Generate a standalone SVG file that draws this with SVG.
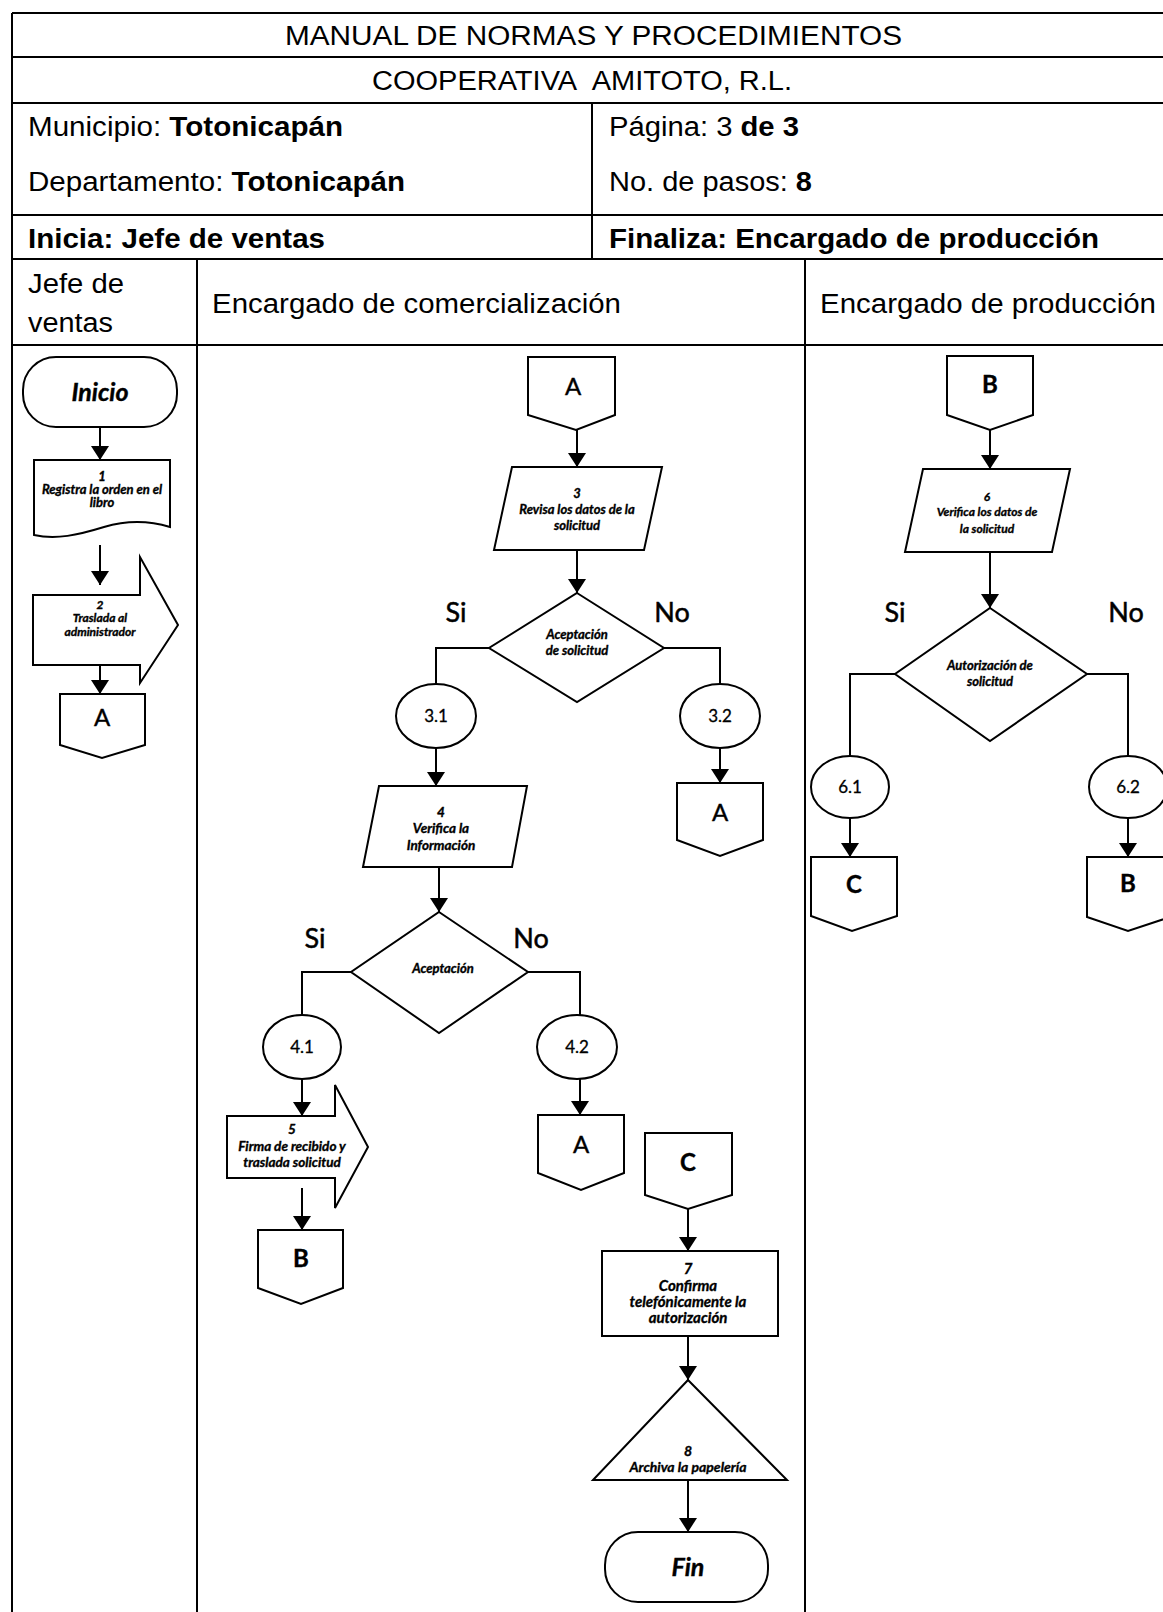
<svg xmlns="http://www.w3.org/2000/svg" width="1163" height="1612" viewBox="0 0 1163 1612">
  <style>
    .grid { stroke: #000; stroke-width: 2; fill: none; }
    .ln { stroke: #000; stroke-width: 2; fill: none; }
    .sh { stroke: #000; stroke-width: 2; fill: #fff; stroke-linejoin: miter; }
    .hd { font-family: "Liberation Sans", Arial, sans-serif; font-size: 27px; fill: #000; }
    .b { font-weight: bold; }
    .st { font-family: Lato, "Open Sans", sans-serif; font-weight: bold; font-style: italic; font-size: 13px; text-anchor: middle; fill: #000; stroke: #000; stroke-width: 0.35; }
    .s12 { font-size: 12px; }
    .s135 { font-size: 13.5px; }
    .s14 { font-size: 14px; }
    .s15 { font-size: 15px; }
    .term { font-family: Lato, "Open Sans", sans-serif; font-weight: bold; font-style: italic; font-size: 25px; text-anchor: middle; fill: #000; stroke: #000; stroke-width: 0.4; }
    .lb { font-family: Lato, "Open Sans", sans-serif; font-size: 27px; text-anchor: middle; fill: #000; stroke: #000; stroke-width: 0.5; }
    .cn { font-family: Lato, "Open Sans", sans-serif; font-size: 17px; text-anchor: middle; fill: #000; stroke: #000; stroke-width: 0.3; }
    .cx { font-family: Lato, "Open Sans", sans-serif; font-size: 24px; text-anchor: middle; fill: #000; stroke: #000; stroke-width: 0.4; }
    .cxb { font-weight: bold; }
  </style>
  <defs>
    <marker id="arrow" markerUnits="userSpaceOnUse" markerWidth="14" markerHeight="18" viewBox="0 0 14 18" refX="14" refY="9" orient="auto">
      <path d="M0,0 L14,9 L0,18 Z" fill="#000"/>
    </marker>
  </defs>

  <rect x="0" y="0" width="1163" height="1612" fill="#fff"/>

  <!-- header table and swimlanes -->
  <g id="table">
    <path class="grid" d="M12,13 H1163 M12,57 H1163 M12,103 H1163 M12,215 H1163 M12,259 H1163 M12,345 H1163"/>
    <path class="grid" d="M12,13 V1612 M592,103 V259 M197,259 V1612 M805,259 V1612"/>
    <text class="hd" x="285" y="45" textLength="617" lengthAdjust="spacingAndGlyphs">MANUAL DE NORMAS Y PROCEDIMIENTOS</text>
    <text class="hd" x="372" y="90" textLength="420" lengthAdjust="spacingAndGlyphs">COOPERATIVA&#160; AMITOTO, R.L.</text>
    <text class="hd" x="28" y="136" textLength="315" lengthAdjust="spacingAndGlyphs">Municipio: <tspan class="b">Totonicapán</tspan></text>
    <text class="hd" x="28" y="191" textLength="377" lengthAdjust="spacingAndGlyphs">Departamento: <tspan class="b">Totonicapán</tspan></text>
    <text class="hd" x="609" y="136" textLength="190" lengthAdjust="spacingAndGlyphs">Página: 3 <tspan class="b">de 3</tspan></text>
    <text class="hd" x="609" y="191" textLength="203" lengthAdjust="spacingAndGlyphs">No. de pasos: <tspan class="b">8</tspan></text>
    <text class="hd b" x="28" y="248" textLength="297" lengthAdjust="spacingAndGlyphs">Inicia: Jefe de ventas</text>
    <text class="hd b" x="609" y="248" textLength="490" lengthAdjust="spacingAndGlyphs">Finaliza: Encargado de producción</text>
    <text class="hd" x="28" y="293" textLength="96" lengthAdjust="spacingAndGlyphs">Jefe de</text>
    <text class="hd" x="28" y="332" textLength="85" lengthAdjust="spacingAndGlyphs">ventas</text>
    <text class="hd" x="212" y="313" textLength="409" lengthAdjust="spacingAndGlyphs">Encargado de comercialización</text>
    <text class="hd" x="820" y="313" textLength="336" lengthAdjust="spacingAndGlyphs">Encargado de producción</text>
  </g>

  <!-- connectors -->
  <g id="connectors">
    <path class="ln" d="M100,427 V460" marker-end="url(#arrow)"/>
    <path class="ln" d="M100,545 V585" marker-end="url(#arrow)"/>
    <path class="ln" d="M100,665 V694" marker-end="url(#arrow)"/>

    <path class="ln" d="M577,430 V467" marker-end="url(#arrow)"/>
    <path class="ln" d="M577,550 V593" marker-end="url(#arrow)"/>
    <path class="ln" d="M489,648 H436 V684"/>
    <path class="ln" d="M664,648 H720 V684"/>
    <path class="ln" d="M720,748 V783" marker-end="url(#arrow)"/>
    <path class="ln" d="M436,748 V786" marker-end="url(#arrow)"/>
    <path class="ln" d="M439,867 V912" marker-end="url(#arrow)"/>
    <path class="ln" d="M351,972 H302 V1015"/>
    <path class="ln" d="M528,972 H580 V1015"/>
    <path class="ln" d="M580,1079 V1115" marker-end="url(#arrow)"/>
    <path class="ln" d="M302,1079 V1116" marker-end="url(#arrow)"/>
    <path class="ln" d="M302,1188 V1230" marker-end="url(#arrow)"/>
    <path class="ln" d="M688,1209 V1251" marker-end="url(#arrow)"/>
    <path class="ln" d="M688,1336 V1380" marker-end="url(#arrow)"/>
    <path class="ln" d="M688,1480 V1532" marker-end="url(#arrow)"/>

    <path class="ln" d="M990,430 V469" marker-end="url(#arrow)"/>
    <path class="ln" d="M990,552 V608" marker-end="url(#arrow)"/>
    <path class="ln" d="M895,674 H850 V756"/>
    <path class="ln" d="M1087,674 H1128 V756"/>
    <path class="ln" d="M850,818 V857" marker-end="url(#arrow)"/>
    <path class="ln" d="M1128,818 V857" marker-end="url(#arrow)"/>
  </g>

  <!-- Jefe de ventas lane -->
  <g id="inicio">
    <rect class="sh" x="23" y="357" width="154" height="70" rx="33"/>
    <text class="term" x="100" y="401">Inicio</text>
  </g>
  <g id="paso1">
    <path class="sh" d="M34,460 H170 V527 C150,521 128,520 104,527 C78,535 56,540 34,535 Z"/>
    <text class="st" x="102" y="481">1</text>
    <text class="st" x="102" y="494">Registra la orden en el</text>
    <text class="st" x="102" y="507">libro</text>
  </g>
  <g id="paso2">
    <path class="sh" d="M33,595 H140 V557 L178,625 L140,683 V665 H33 Z"/>
    <text class="st s12" x="100" y="609">2</text>
    <text class="st s12" x="100" y="622">Traslada al</text>
    <text class="st s12" x="100" y="636">administrador</text>
  </g>
  <g id="conector-a1">
    <path class="sh" d="M60,694 H145 V745 L102,758 L60,745 Z"/>
    <text class="cx" x="102" y="726">A</text>
  </g>

  <!-- Encargado de comercialización lane -->
  <g id="conector-a2">
    <path class="sh" d="M528,357 H615 V415 L576,430 L528,415 Z"/>
    <text class="cx" x="573" y="395">A</text>
  </g>
  <g id="paso3">
    <path class="sh" d="M512,467 L662,467 L644,550 L494,550 Z"/>
    <text class="st" x="577" y="498">3</text>
    <text class="st" x="577" y="514">Revisa los datos de la</text>
    <text class="st" x="577" y="530">solicitud</text>
  </g>
  <g id="decision3">
    <path class="sh" d="M577,593 L664,648 L577,702 L489,648 Z"/>
    <text class="st" x="577" y="639">Aceptación</text>
    <text class="st" x="577" y="655">de solicitud</text>
    <text class="lb" x="456" y="622">Si</text>
    <text class="lb" x="672" y="622">No</text>
  </g>
  <g id="n3-1">
    <ellipse class="sh" cx="436" cy="716" rx="40" ry="32"/>
    <text class="cn" x="436" y="722">3.1</text>
  </g>
  <g id="n3-2">
    <ellipse class="sh" cx="720" cy="716" rx="40" ry="32"/>
    <text class="cn" x="720" y="722">3.2</text>
  </g>
  <g id="conector-a3">
    <path class="sh" d="M677,783 H763 V840 L720,856 L677,840 Z"/>
    <text class="cx" x="720" y="821">A</text>
  </g>
  <g id="paso4">
    <path class="sh" d="M379,786 L527,786 L512,867 L363,867 Z"/>
    <text class="st s135" x="441" y="817">4</text>
    <text class="st s135" x="441" y="833">Verifica la</text>
    <text class="st s135" x="441" y="850">Información</text>
  </g>
  <g id="decision4">
    <path class="sh" d="M439,912 L528,972 L439,1033 L351,972 Z"/>
    <text class="st" x="443" y="973">Aceptación</text>
    <text class="lb" x="315" y="948">Si</text>
    <text class="lb" x="531" y="948">No</text>
  </g>
  <g id="n4-1">
    <ellipse class="sh" cx="302" cy="1047" rx="39" ry="32"/>
    <text class="cn" x="302" y="1053">4.1</text>
  </g>
  <g id="n4-2">
    <ellipse class="sh" cx="577" cy="1047" rx="40" ry="32"/>
    <text class="cn" x="577" y="1053">4.2</text>
  </g>
  <g id="conector-a4">
    <path class="sh" d="M538,1115 H624 V1173 L581,1190 L538,1173 Z"/>
    <text class="cx" x="581" y="1153">A</text>
  </g>
  <g id="paso5">
    <path class="sh" d="M227,1116 H335 V1085 L368,1147 L335,1208 V1178 H227 Z"/>
    <text class="st s135" x="292" y="1134">5</text>
    <text class="st s135" x="292" y="1151">Firma de recibido y</text>
    <text class="st s135" x="292" y="1167">traslada solicitud</text>
  </g>
  <g id="conector-b1">
    <path class="sh" d="M258,1230 H343 V1288 L301,1304 L258,1288 Z"/>
    <text class="cx cxb" x="301" y="1267">B</text>
  </g>
  <g id="conector-c2">
    <path class="sh" d="M645,1133 H732 V1195 L688,1209 L645,1195 Z"/>
    <text class="cx cxb" x="688" y="1171">C</text>
  </g>
  <g id="paso7">
    <rect class="sh" x="602" y="1251" width="176" height="85"/>
    <text class="st s15" x="688" y="1274">7</text>
    <text class="st s15" x="688" y="1291">Confirma</text>
    <text class="st s15" x="688" y="1307">telefónicamente la</text>
    <text class="st s15" x="688" y="1323">autorización</text>
  </g>
  <g id="paso8">
    <path class="sh" d="M688,1380 L787,1480 L593,1480 Z"/>
    <text class="st s14" x="688" y="1456">8</text>
    <text class="st s14" x="688" y="1472">Archiva la papelería</text>
  </g>
  <g id="fin">
    <rect class="sh" x="605" y="1532" width="163" height="70" rx="33"/>
    <text class="term" x="688" y="1576">Fin</text>
  </g>

  <!-- Encargado de producción lane -->
  <g id="conector-b2">
    <path class="sh" d="M947,356 H1033 V415 L990,430 L947,415 Z"/>
    <text class="cx cxb" x="990" y="393">B</text>
  </g>
  <g id="paso6">
    <path class="sh" d="M923,469 L1070,469 L1052,552 L905,552 Z"/>
    <text class="st s12" x="987" y="501">6</text>
    <text class="st s12" x="987" y="516">Verifica los datos de</text>
    <text class="st s12" x="987" y="533">la solicitud</text>
  </g>
  <g id="decision6">
    <path class="sh" d="M990,608 L1087,674 L990,741 L895,674 Z"/>
    <text class="st" x="990" y="670">Autorización de</text>
    <text class="st" x="990" y="686">solicitud</text>
    <text class="lb" x="895" y="622">Si</text>
    <text class="lb" x="1126" y="622">No</text>
  </g>
  <g id="n6-1">
    <ellipse class="sh" cx="850" cy="787" rx="39" ry="31"/>
    <text class="cn" x="850" y="793">6.1</text>
  </g>
  <g id="n6-2">
    <ellipse class="sh" cx="1128" cy="787" rx="39" ry="31"/>
    <text class="cn" x="1128" y="793">6.2</text>
  </g>
  <g id="conector-c1">
    <path class="sh" d="M811,857 H897 V916 L852,931 L811,916 Z"/>
    <text class="cx cxb" x="854" y="893">C</text>
  </g>
  <g id="conector-b3">
    <path class="sh" d="M1087,857 H1170 V917 L1128,931 L1087,917 Z"/>
    <text class="cx cxb" x="1128" y="892">B</text>
  </g>
</svg>
